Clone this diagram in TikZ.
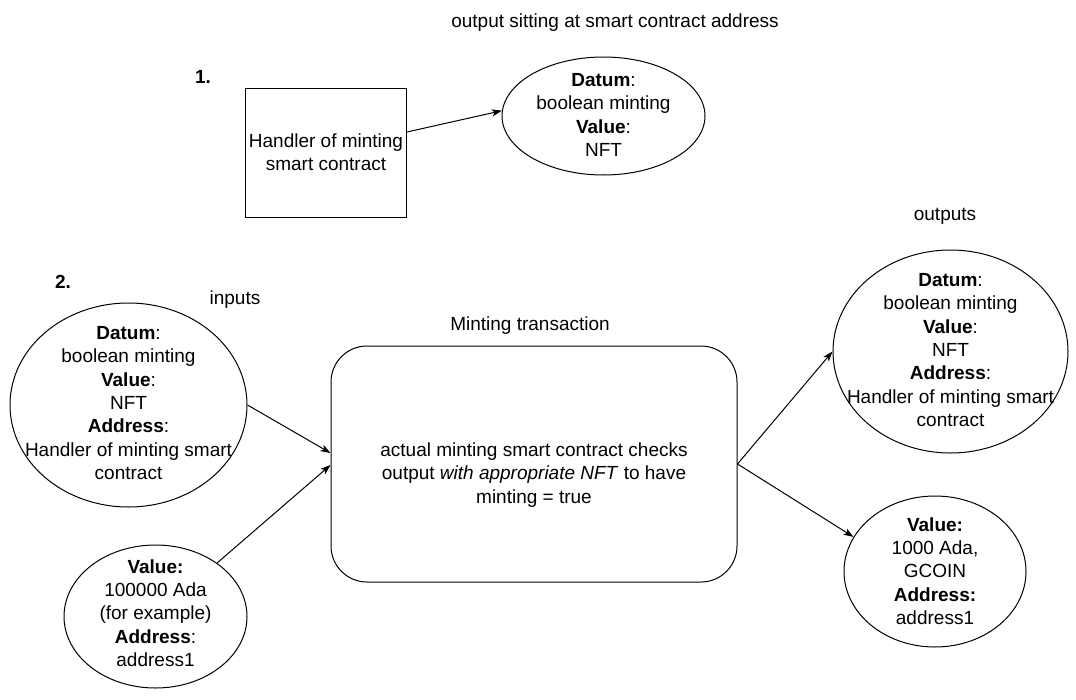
\documentclass[tikz,border=0pt]{standalone}
\usepackage{fontspec}
\setmainfont{Liberation Sans}
\usetikzlibrary{shapes.geometric,arrows.meta,calc}
\begin{document}
\begin{tikzpicture}[x=1pt,y=-1pt,
  every node/.style={font=\fontsize{19}{23.3}\selectfont},
  shp/.style={draw, line width=1pt, inner sep=0pt},
  oval/.style={shp, ellipse},
  txt/.style={align=center, inner sep=0pt},
  bold/.style={txt, font=\fontsize{19}{23.3}\selectfont\bfseries},
  arr/.style={line width=1pt, -{Stealth[length=10pt,width=7pt,inset=2.5pt]}}]
\useasboundingbox (0,0) rectangle (1076,699);

% part 1
\node[txt] (title1) at (615,23) {output sitting at smart contract address};
\node[bold] (n1) at (203,77) {1.};
\node[shp, align=center, minimum width=161pt, minimum height=129pt] (handler) at (326,152.5) {Handler of minting\\smart contract};
\node[oval, minimum width=203pt, minimum height=118pt] (top) at (603.5,116) {};
\node[txt] (topt) at (603.5,115) {\textbf{Datum}:\\boolean minting\\\textbf{Value}:\\NFT};
\draw[arr] ([yshift=20.5pt]handler.east) -- (top.177.7);

% part 2
\node[bold] (n2) at (63,282) {2.};
\node[txt] (inputs) at (235,300) {inputs};
\node[txt] (mintlbl) at (530,326) {Minting transaction};
\node[txt] (outputs) at (945,216) {outputs};

\node[oval, minimum width=237pt, minimum height=204pt] (in1) at (128.5,405) {};
\node[txt] (in1t) at (128.5,403) {\textbf{Datum}:\\boolean minting\\\textbf{Value}:\\NFT\\\textbf{Address}:\\Handler of minting smart\\contract};

\node[oval, minimum width=183pt, minimum height=143pt] (in2) at (155.5,616.5) {};
\node[txt] (in2t) at (155.5,613) {\textbf{Value:}\\100000 Ada\\(for example)\\\textbf{Address}:\\address1};

\node[shp, rectangle, rounded corners=36pt, minimum width=406pt, minimum height=236pt] (tx) at (534,464) {};
\node[txt] (txt) at (534,475) {actual minting smart contract checks\\output \textit{with appropriate NFT} to have\\minting = true};

\node[oval, minimum width=235pt, minimum height=203pt] (out1) at (950.5,351.5) {};
\node[txt] (out1t) at (950.5,350) {\textbf{Datum}:\\boolean minting\\\textbf{Value}:\\NFT\\\textbf{Address}:\\Handler of minting smart\\contract};

\node[oval, minimum width=182pt, minimum height=151pt] (out2) at (935,571.5) {};
\node[txt] (out2t) at (935,571) {\textbf{Value:}\\1000 Ada,\\GCOIN\\\textbf{Address:}\\address1};

\draw[arr] (in1.east) -- ([yshift=11pt]tx.west);
\draw[arr] (in2.41) -- ([yshift=-1pt]tx.west);
\draw[arr] (tx.east) -- (out1.west);
\draw[arr] (tx.east) -- (out2.157.8);
\end{tikzpicture}
\end{document}
